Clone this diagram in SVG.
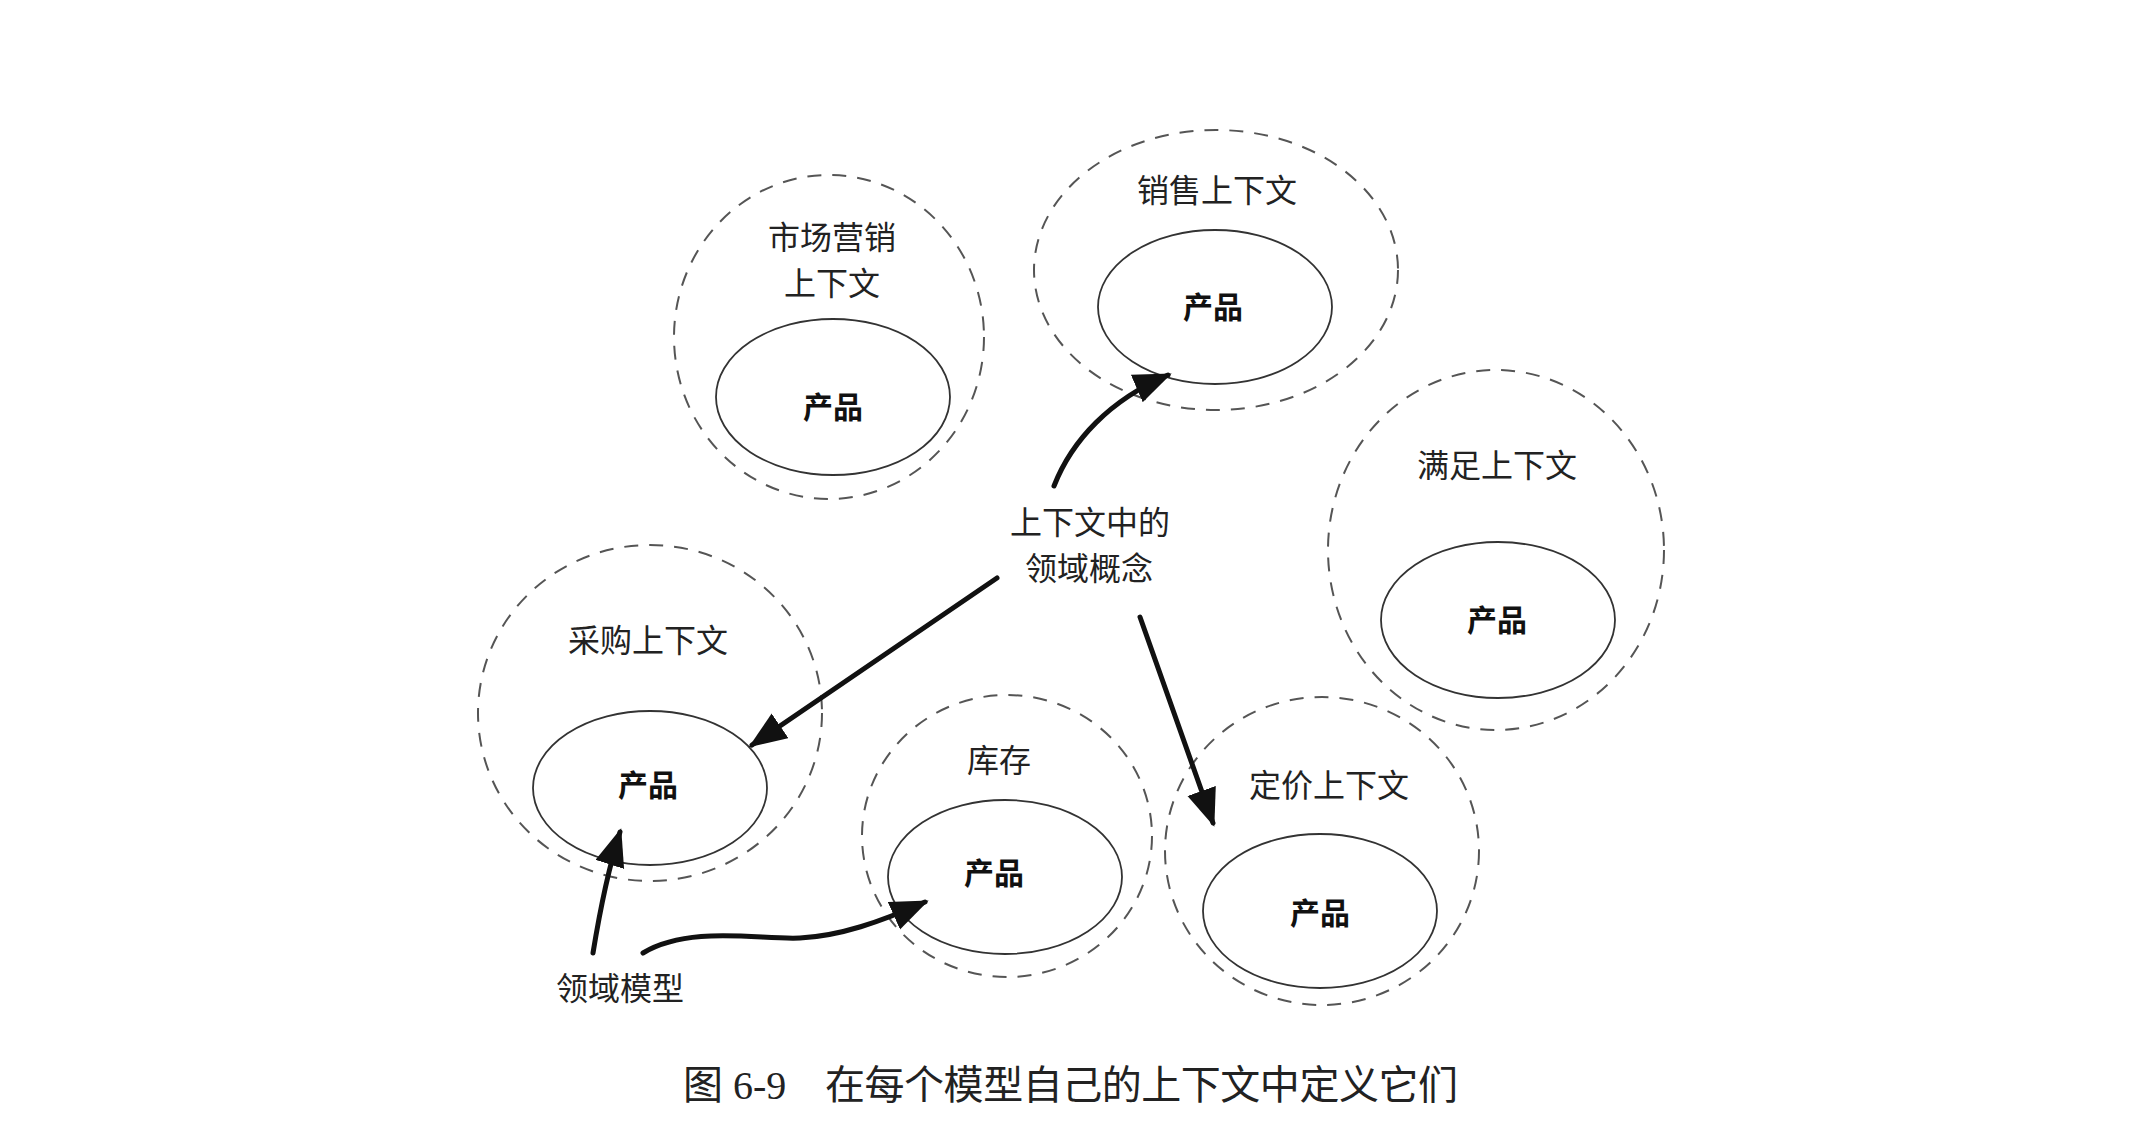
<svg xmlns="http://www.w3.org/2000/svg" width="2146" height="1138" viewBox="0 0 2146 1138">
<style>
.bg{fill:#ffffff}
.ctx{fill:none;stroke:#555;stroke-width:2;stroke-dasharray:14 11}
.prod{fill:none;stroke:#333;stroke-width:1.8}
.lbl{font-family:"Liberation Serif","Noto Sans CJK SC",serif;font-size:32px;fill:#222;text-anchor:middle}
.pl{font-family:"Noto Sans CJK SC",sans-serif;font-size:30px;font-weight:bold;fill:#111;text-anchor:middle}
.cap{font-family:"Liberation Serif","Noto Sans CJK SC",serif;font-size:40px;fill:#222}
.arr{fill:none;stroke:#111;stroke-width:5;stroke-linecap:round;marker-end:url(#ah)}
</style>
<defs>
<marker id="ah" markerUnits="userSpaceOnUse" markerWidth="44" markerHeight="34" refX="34" refY="15" orient="auto">
<path d="M0,0 L38,15 L0,30 z" fill="#111"/>
</marker>
</defs>
<rect class="bg" x="0" y="0" width="2146" height="1138"/>

<g id="marketing">
<ellipse class="ctx" cx="829" cy="337" rx="155" ry="162"/>
<ellipse class="prod" cx="833" cy="397" rx="117" ry="78"/>
<text class="lbl" x="832" y="249">市场营销</text>
<text class="lbl" x="832" y="295">上下文</text>
<text class="pl" x="833" y="418">产品</text>
</g>

<g id="sales">
<ellipse class="ctx" cx="1216" cy="270" rx="182" ry="140"/>
<ellipse class="prod" cx="1215" cy="307" rx="117" ry="77"/>
<text class="lbl" x="1217" y="202">销售上下文</text>
<text class="pl" x="1213" y="318">产品</text>
</g>

<g id="fulfillment">
<ellipse class="ctx" cx="1496" cy="550" rx="168" ry="180"/>
<ellipse class="prod" cx="1498" cy="620" rx="117" ry="78"/>
<text class="lbl" x="1497" y="477">满足上下文</text>
<text class="pl" x="1497" y="631">产品</text>
</g>

<g id="procurement">
<ellipse class="ctx" cx="650" cy="713" rx="172" ry="168"/>
<ellipse class="prod" cx="650" cy="788" rx="117" ry="77"/>
<text class="lbl" x="648" y="652">采购上下文</text>
<text class="pl" x="648" y="796">产品</text>
</g>

<g id="inventory">
<ellipse class="ctx" cx="1007" cy="836" rx="145" ry="141"/>
<ellipse class="prod" cx="1005" cy="877" rx="117" ry="77"/>
<text class="lbl" x="999" y="772">库存</text>
<text class="pl" x="994" y="884">产品</text>
</g>

<g id="pricing">
<ellipse class="ctx" cx="1322" cy="851" rx="157" ry="154"/>
<ellipse class="prod" cx="1320" cy="911" rx="117" ry="77"/>
<text class="lbl" x="1329" y="797">定价上下文</text>
<text class="pl" x="1320" y="924">产品</text>
</g>

<g id="concept">
<text class="lbl" x="1090" y="534">上下文中的</text>
<text class="lbl" x="1089" y="580">领域概念</text>
</g>

<g id="model">
<text class="lbl" x="620" y="1000">领域模型</text>
</g>

<g id="connectors">
<path class="arr" d="M1054,486 C1072,440 1110,400 1168,375"/>
<path class="arr" d="M997,578 L752,745"/>
<path class="arr" d="M1140,617 L1213,823"/>
<path class="arr" d="M593,953 C600,910 608,870 620,832"/>
<path class="arr" d="M643,953 C690,925 760,940 800,938 S880,922 925,902"/>
</g>

<g id="caption">
<text class="cap" x="683" y="1099">图 6-9</text>
<text class="cap" x="825" y="1099" textLength="633" lengthAdjust="spacing">在每个模型自己的上下文中定义它们</text>
</g>
</svg>
